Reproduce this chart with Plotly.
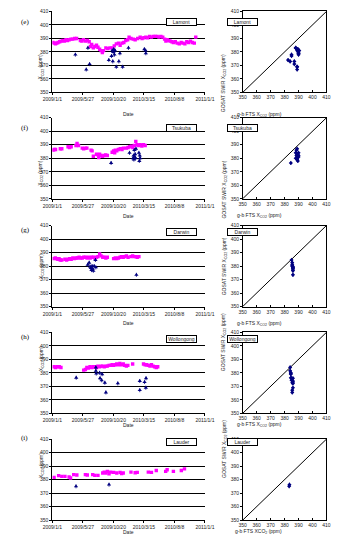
import pandas as pd
import plotly.graph_objects as go

W, H = 344, 542
BASE = pd.Timestamp("2009-01-01")

# ---------------- data (days since 2009-01-01, ppm) ----------------
site_names = ["Lamont", "Tsukuba", "Darwin", "Wollongong", "Lauder"]
panel_letters = ["(e)", "(f)", "(g)", "(h)", "(i)"]

lamont_fts_day = [3, 9, 15, 21, 27, 35, 42, 50, 57, 65, 72, 80, 89, 98, 107, 116, 134, 141, 149, 158,
                  167, 176, 182, 188, 196, 203, 211, 218, 226, 233, 239, 245, 256, 265, 275, 286, 296, 306, 316, 324,
                  333, 342, 351, 360, 367, 376, 387, 396, 408, 420, 429, 438, 447, 456, 465, 474, 483, 492, 501, 510,
                  519, 528, 537, 543, 549, 557, 564, 572, 579, 588, 597, 607, 616, 625, 634, 643, 652, 661, 670, 679, 686]
lamont_fts = [387.0, 386.5, 386.0, 386.5, 387.0, 387.5, 388.0, 388.5, 388.0, 389.0, 388.5, 389.0, 389.5, 389.5, 390.0, 390.0, 388.5, 388.0, 389.0, 388.0,
              388.5, 387.5, 384.0, 385.5, 383.0, 384.0, 385.0, 383.5, 382.0, 381.0, 379.5, 381.0, 383.0, 382.5, 383.0, 383.0, 384.5, 386.0, 386.5, 385.0,
              386.5, 387.0, 388.5, 389.0, 391.0, 390.0, 389.5, 389.0, 390.0, 391.0, 390.0, 390.5, 391.0, 390.5, 391.5, 391.0, 391.5, 391.5, 391.5, 391.0,
              391.5, 391.0, 389.5, 388.0, 389.0, 388.5, 388.0, 387.5, 387.0, 387.5, 386.5, 386.0, 387.0, 386.5, 386.0, 387.5, 387.0, 388.0, 387.0, 386.5, 391.0]
lamont_gosat_day = [110, 162, 170, 178, 270, 283, 286, 289, 291, 294, 297, 300, 306, 318, 323, 336, 364, 440, 446, 447]
lamont_gosat = [378, 367, 383, 371, 374, 377, 381, 373, 380, 382, 378, 381, 369, 373, 379, 369, 383, 382, 381, 379]
lamont_match_fts = [385, 389, 388, 387, 382.5, 385, 389, 384, 390, 389.5, 390, 390.5, 389, 387, 390, 389, 388, 389.5, 390, 390]

tsukuba_fts_day = [3, 9, 15, 38, 45, 75, 82, 90, 113, 118, 125, 143, 150, 158, 165, 185, 190, 196, 211, 218,
                   222, 226, 233, 240, 248, 255, 263, 286, 293, 298, 301, 308, 316, 325, 333, 340, 354, 362, 370, 378,
                   385, 392, 399, 405, 412, 420, 428, 436, 444]
tsukuba_fts = [386.0, 386.5, 386.5, 387.0, 387.0, 388.5, 388.0, 388.5, 389.5, 391.0, 389.5, 387.5, 387.0, 387.5, 387.5, 386.0, 385.5, 381.5, 383.0, 382.5,
               380.5, 383.0, 382.0, 381.5, 382.0, 382.5, 382.0, 384.5, 385.5, 384.0, 386.0, 385.5, 386.5, 387.0, 386.5, 387.5, 387.5, 388.0, 388.5, 389.0,
               388.0, 389.5, 392.5, 390.0, 389.5, 390.0, 389.0, 390.0, 389.5]
tsukuba_gosat_day = [281, 369, 386, 388, 390, 392, 394, 396, 398, 400, 414, 416, 418, 420]
tsukuba_gosat = [376.5, 384, 380, 382, 379, 386, 381, 383, 380, 387, 384, 378, 382, 380]
tsukuba_match_fts = [384.5, 388, 389, 388.5, 389, 388.5, 390, 389.5, 388, 389, 390, 389.5, 390, 389]

darwin_fts_day = [8, 14, 20, 26, 32, 38, 45, 60, 68, 75, 83, 90, 98, 105, 113, 120, 128, 135, 143, 150,
                  158, 166, 173, 181, 188, 196, 203, 211, 218, 226, 233, 241, 248, 256, 263, 293, 301, 308, 316, 324,
                  331, 339, 346, 354, 362, 376, 384, 391, 399, 406, 414]
darwin_fts = [385.5, 386.0, 385.5, 385.0, 385.5, 384.5, 384.5, 385.0, 384.5, 385.0, 385.5, 385.0, 386.0, 385.5, 386.0, 386.0, 386.5, 386.0, 386.0, 386.5,
              386.5, 386.0, 386.5, 386.0, 386.5, 386.5, 386.0, 386.5, 387.0, 389.0, 387.5, 386.5, 386.5, 386.0, 386.5, 385.5, 386.0, 385.5, 386.0, 386.5,
              387.0, 386.5, 387.0, 387.5, 386.5, 387.0, 387.5, 387.0, 387.0, 386.5, 387.0]
darwin_gosat_day = [169, 176, 181, 184, 187, 190, 193, 196, 200, 206, 208, 402]
darwin_gosat = [381, 382.5, 379.5, 378.5, 377, 380, 378, 376.5, 380, 384.5, 379, 373.5]
darwin_match_fts = [385.5, 385.5, 386, 386, 386, 385.5, 386, 386, 385.5, 385, 386, 386]

wollongong_fts_day = [8, 15, 23, 33, 41, 150, 158, 165, 172, 180, 188, 195, 203, 211, 218, 226, 233, 241, 248, 256,
                      263, 271, 278, 286, 293, 301, 308, 316, 323, 331, 339, 346, 354, 361, 384, 436, 444, 451, 459, 467,
                      474, 482, 489, 497, 504]
wollongong_fts = [384.5, 384.0, 384.5, 384.5, 384.0, 382.0, 382.5, 384.0, 383.5, 384.5, 384.0, 384.5, 384.5, 384.0, 385.0, 384.5, 385.0, 385.0, 384.5, 385.0,
                  385.0, 385.5, 385.5, 386.0, 385.5, 386.0, 386.5, 386.0, 387.0, 386.0, 386.5, 385.5, 385.0, 385.5, 386.5, 386.5, 386.0, 386.0, 385.5, 385.0,
                  386.0, 385.0, 384.5, 384.0, 384.5]
wollongong_gosat_day = [114, 208, 208, 210, 226, 228, 236, 238, 251, 256, 313, 418, 418, 441, 447, 448]
wollongong_gosat = [376.4, 384, 381.5, 379.5, 380, 376, 374.5, 379, 372.7, 365.5, 372.2, 374, 367.2, 373.2, 369, 376]
wollongong_match_fts = [384.5, 384, 384, 384.5, 384.5, 385, 385, 384.5, 385.5, 385.5, 386, 386, 385.5, 386, 386, 386]

lauder_fts_day = [8, 30, 45, 60, 80, 87, 102, 117, 158, 167, 193, 203, 218, 241, 248, 256, 263, 271, 278, 293,
                  308, 324, 331, 339, 376, 396, 406, 459, 474, 497, 542, 549, 579, 617, 632]
lauder_fts = [381.7, 383.0, 382.4, 382.4, 382.0, 381.2, 383.7, 383.4, 383.7, 383.5, 383.7, 383.2, 383.2, 384.9, 385.6, 384.9, 386.1, 384.4, 385.6, 385.4,
              384.9, 385.4, 384.5, 384.9, 385.6, 385.1, 385.4, 385.6, 385.4, 386.8, 386.1, 387.3, 386.1, 386.8, 388.0]
lauder_gosat_day = [113, 271]
lauder_gosat = [375.1, 376.3]
lauder_match_fts = [383.3, 383.5]

gosat_err = 1.5
date_tickvals = ["2009-01-01", "2009-05-27", "2009-10-20", "2010-03-15", "2010-08-08", "2011-01-01"]
date_ticktext = ["2009/1/1", "2009/5/27", "2009/10/20", "2010/3/15", "2010/8/8", "2011/1/1"]
ppm_ticks = [350, 360, 370, 380, 390, 400, 410]
one_to_one = [350, 410]

sites = [
    (lamont_fts_day, lamont_fts, lamont_gosat_day, lamont_gosat, lamont_match_fts),
    (tsukuba_fts_day, tsukuba_fts, tsukuba_gosat_day, tsukuba_gosat, tsukuba_match_fts),
    (darwin_fts_day, darwin_fts, darwin_gosat_day, darwin_gosat, darwin_match_fts),
    (wollongong_fts_day, wollongong_fts, wollongong_gosat_day, wollongong_gosat, wollongong_match_fts),
    (lauder_fts_day, lauder_fts, lauder_gosat_day, lauder_gosat, lauder_match_fts),
]

# ---------------- layout geometry (pixels) ----------------
row_tops = [8.5, 116, 225, 333, 441]
ROW_H = 82
LX0, LX1 = 45, 207
RX0, RX1 = 247, 336

MAGENTA = "#FF00FF"
NAVY = "#000080"
TICKFONT = dict(family="Liberation Sans, Arial", size=5, color="#222")
FONT = "Liberation Sans, Arial"


def to_dates(days):
    return BASE + pd.to_timedelta(days, unit="D")


def px_x(v):
    return v / W


def px_y(v):
    return 1 - v / H


fig = go.Figure()
annotations = []
layout = dict(
    width=W, height=H, margin=dict(l=0, r=0, t=0, b=0),
    paper_bgcolor="white", plot_bgcolor="white", showlegend=False,
)

for i, (fday, fval, gday, gval, gmatch) in enumerate(sites):
    top = row_tops[i]
    bot = top + ROW_H
    lx = f"x{2*i+1}"; ly = f"y{2*i+1}"
    rx = f"x{2*i+2}"; ry = f"y{2*i+2}"
    lxa = "xaxis" if i == 0 else f"xaxis{2*i+1}"
    lya = "yaxis" if i == 0 else f"yaxis{2*i+1}"
    rxa = f"xaxis{2*i+2}"
    rya = f"yaxis{2*i+2}"
    lx_ref = "x" if i == 0 else lx
    ly_ref = "y" if i == 0 else ly

    fig.add_trace(go.Scatter(
        x=to_dates(fday), y=fval, mode="markers", xaxis=lx_ref, yaxis=ly_ref,
        marker=dict(symbol="square", size=3.4, color=MAGENTA, line=dict(width=0)),
    ))
    fig.add_trace(go.Scatter(
        x=to_dates(gday), y=gval, mode="markers", xaxis=lx_ref, yaxis=ly_ref,
        marker=dict(symbol="triangle-up", size=3.8, color=NAVY, line=dict(width=0)),
        error_y=dict(type="constant", value=gosat_err, color=NAVY, thickness=0.8, width=0),
    ))
    # scatter panel
    fig.add_trace(go.Scatter(
        x=one_to_one, y=one_to_one, mode="lines", xaxis=rx, yaxis=ry,
        line=dict(color="black", width=1),
    ))
    fig.add_trace(go.Scatter(
        x=gmatch, y=gval, mode="markers", xaxis=rx, yaxis=ry,
        marker=dict(symbol="diamond", size=3.2, color=NAVY, line=dict(width=0)),
        error_y=dict(type="constant", value=gosat_err, color=NAVY, thickness=0.8, width=0),
        error_x=dict(type="constant", value=0.8, color=NAVY, thickness=0.8, width=0),
    ))

    ydom = [px_y(bot), px_y(top)]
    layout[lxa] = dict(
        domain=[px_x(LX0), px_x(LX1)], anchor=ly_ref, type="date",
        range=["2009-01-01", "2011-01-01"], tickvals=date_tickvals, ticktext=date_ticktext,
        tickfont=TICKFONT, ticks="outside", ticklen=2, tickcolor="black", tickwidth=0.8,
        showline=True, linecolor="black", linewidth=1, showgrid=False, zeroline=False,
    )
    layout[lya] = dict(
        domain=ydom, anchor=lx_ref, range=[350, 410], tickvals=ppm_ticks,
        tickfont=TICKFONT, ticks="outside", ticklen=2, tickcolor="black", tickwidth=0.8,
        showline=True, linecolor="black", linewidth=1, showgrid=True,
        gridcolor="black", gridwidth=0.8, zeroline=False,
    )
    layout[rxa] = dict(
        domain=[px_x(RX0), px_x(RX1)], anchor=ry, range=[350, 410], tickvals=ppm_ticks,
        tickfont=TICKFONT, ticks="inside", ticklen=2, tickcolor="black", tickwidth=0.8,
        showline=True, linecolor="black", linewidth=1, mirror=True, showgrid=False, zeroline=False,
    )
    layout[rya] = dict(
        domain=ydom, anchor=rx, range=[350, 410], tickvals=ppm_ticks,
        tickfont=TICKFONT, ticks="outside", ticklen=1.5, tickcolor="black", tickwidth=0.8,
        showline=True, linecolor="black", linewidth=1, mirror=True, showgrid=False, zeroline=False,
    )

    # texts
    ymid = px_y((top + bot) / 2)
    annotations += [
        dict(text=panel_letters[i], x=px_x(10), y=px_y(top + 4.5), xref="paper", yref="paper",
             showarrow=False, font=dict(family="Liberation Serif", size=7, color="black")),
        dict(text="X<sub>CO2</sub> (ppm)", x=px_x(27), y=ymid, xref="paper", yref="paper",
             textangle=-90, showarrow=False, font=dict(family=FONT, size=5, color="#222")),
        dict(text="GOSAT SWIR X<sub>CO2</sub> (ppm)", x=px_x(227.5), y=ymid, xref="paper", yref="paper",
             textangle=-90, showarrow=False, font=dict(family=FONT, size=5, color="#222")),
        dict(text="Date", x=px_x(126), y=px_y(top + 99), xref="paper", yref="paper",
             showarrow=False, font=dict(family=FONT, size=5, color="#222")),
        dict(text=("g-b FTS XCO<sub>2</sub> (ppm)" if i == 4 else "g-b FTS X<sub>CO2</sub> (ppm)"),
             x=px_x(291), y=px_y(top + 99), xref="paper", yref="paper",
             showarrow=False, font=dict(family=FONT, size=5, color="#222")),
        dict(text=site_names[i], x=px_x(182.5), y=px_y(top + 6.5), xref="paper", yref="paper",
             showarrow=False, width=28, height=5, borderpad=0.5, bordercolor="black", borderwidth=1,
             bgcolor="white", font=dict(family=FONT, size=5, color="#222")),
        dict(text=site_names[i], x=px_x(263), y=px_y(top + 6.5), xref="paper", yref="paper",
             showarrow=False, width=28, height=5, borderpad=0.5, bordercolor="black", borderwidth=1,
             bgcolor="white", font=dict(family=FONT, size=5, color="#222")),
    ]

layout["annotations"] = annotations
fig.update_layout(**layout)
fig.write_html("out.html")
